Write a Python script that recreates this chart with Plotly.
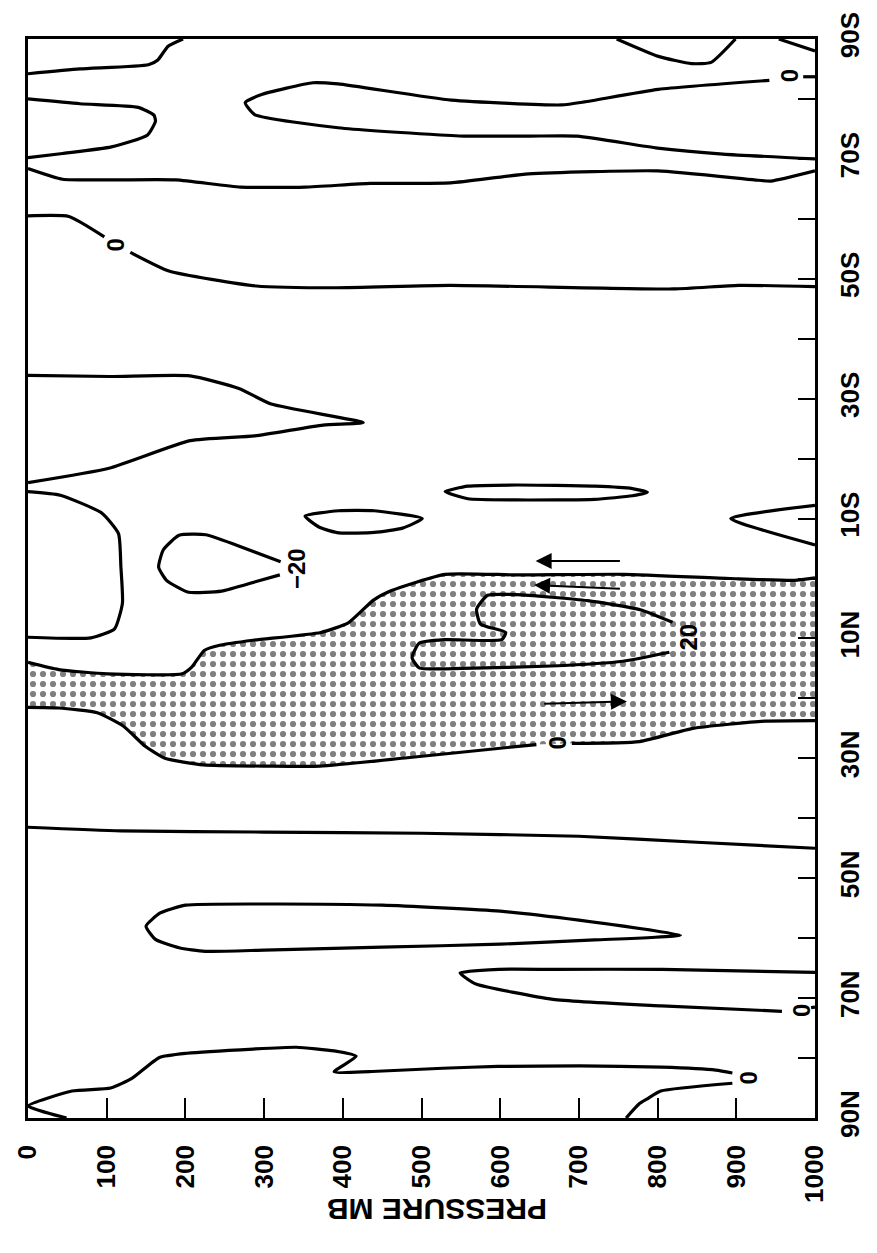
import plotly.graph_objects as go

# ---------------- axis ticks ----------------
p_ticks = [0, 100, 200, 300, 400, 500, 600, 700, 800, 900, 1000]
p_ticktext = [str(v) for v in p_ticks]
lat_ticks = [-90, -70, -50, -30, -10, 10, 30, 50, 70, 90]
lat_ticktext = ["90S", "70S", "50S", "30S", "10S", "10N", "30N", "50N", "70N", "90N"]

# ---------------- contour lines (pressure mb, latitude deg; S negative) ----------------
a_p = [197, 178, 165, 153, 66, 0]
a_lat = [-90, -88.8, -86.5, -85.7, -85.0, -84.2]

b_p = [0, 66, 140, 160, 162, 152, 106, 44, 0]
b_lat = [-80.0, -79.2, -78.6, -77.3, -76.3, -74.0, -72.0, -70.9, -70.2]

c_p = [0, 44, 106, 188, 270, 352, 435, 537, 636, 800, 923, 944, 1000]
c_lat = [-68.4, -66.6, -66.5, -66.5, -65.3, -65.3, -65.9, -66.0, -67.5, -68.0, -66.5, -66.3, -68.0]

tongue_p = [1000, 883, 800, 698, 637, 554, 538, 394, 288, 276, 296, 362, 394, 538, 678, 707, 801, 942]
tongue_lat = [-70.0, -70.8, -71.8, -73.8, -73.8, -73.8, -73.9, -75.2, -77.4, -79.4, -80.7, -82.7, -82.5, -79.8, -79.0, -79.5, -81.6, -83.1]
tongue_tail_p = [985, 1000]
tongue_tail_lat = [-83.7, -83.7]

bump_p = [748, 801, 843, 868, 899]
bump_lat = [-90, -87.1, -85.9, -86.1, -90]
corner_p = [954, 1000]
corner_lat = [-90, -88.0]

d1_p = [0, 52, 97]
d1_lat = [-60.5, -60.4, -57.0]
d2_p = [130, 179, 290, 392, 536, 820, 903, 1000]
d2_lat = [-54.4, -51.3, -48.8, -48.5, -48.9, -48.3, -48.9, -48.7]

e_p = [0, 104, 206, 268, 309, 426, 375, 288, 206, 103, 0]
e_lat = [-33.9, -33.7, -33.8, -31.7, -29.1, -26.0, -25.6, -23.8, -23.0, -18.4, -16.0]

f_p = [0, 41, 94, 115, 118, 120, 110, 80, 0]
f_lat = [-14.5, -13.9, -10.9, -7.5, -2.0, 4.1, 8.4, 9.9, 9.8]

oval_p = [352, 395, 440, 501, 476, 440, 395, 371, 352]
oval_lat = [-10.4, -11.3, -11.3, -10.0, -8.4, -7.7, -7.6, -8.5, -10.4]

ellipse_p = [530, 559, 621, 720, 768, 787, 768, 720, 621, 559, 530]
ellipse_lat = [-14.5, -15.4, -15.6, -15.4, -15.0, -14.4, -13.8, -13.2, -13.1, -13.3, -14.5]

v_p = [1000, 893, 1000]
v_lat = [-12.2, -10.0, -5.6]

neg20_p = [321, 266, 226, 192, 172, 166, 176, 204, 246, 290, 320]
neg20_lat = [-2.8, -5.5, -7.3, -7.2, -4.8, -1.9, 0.3, 2.3, 2.1, 0.5, -0.6]

# stippled region boundaries (zero lines)
g_p = [0, 39, 101, 196, 208, 224, 245, 286, 372, 407, 439, 462, 530, 621, 757, 892, 974, 1000]
g_lat = [14.0, 15.2, 15.9, 15.9, 14.8, 12.0, 11.1, 10.3, 9.0, 7.4, 3.6, 2.0, -0.7, -0.6, -0.7, 0.0, 0.3, -0.1]
h1_p = [0, 39, 88, 121, 149, 174, 223, 306, 371, 482, 646]
h1_lat = [21.5, 21.6, 22.4, 24.6, 28.0, 30.0, 31.1, 31.3, 31.3, 29.9, 27.7]
h2_p = [691, 777, 845, 936, 1000]
h2_lat = [27.5, 27.2, 25.0, 23.8, 23.7]

pos20_p = [819, 778, 711, 621, 584, 570, 575, 607, 602, 529, 497, 488, 497, 551, 665, 756, 815]
pos20_lat = [7.3, 5.2, 3.7, 2.7, 2.8, 5.1, 7.6, 9.0, 10.2, 10.2, 10.8, 13.2, 14.9, 15.0, 14.6, 13.8, 12.3]

p_line_p = [0, 118, 300, 500, 700, 850, 1000]
p_line_lat = [41.5, 42.1, 42.3, 42.5, 43.0, 44.0, 45.0]

lens_p = [829, 700, 600, 450, 300, 200, 168, 150, 162, 192, 225, 300, 450, 600, 720, 829]
lens_lat = [59.5, 57.0, 55.5, 54.5, 54.3, 54.5, 55.8, 58.0, 60.2, 61.6, 62.2, 62.0, 61.5, 61.0, 60.3, 59.5]

n70_p = [1000, 806, 667, 598, 549, 556, 570, 667, 805, 958]
n70_lat = [65.7, 65.2, 65.2, 65.2, 65.8, 66.6, 67.7, 70.2, 71.3, 72.2]
n70_tail_p = [995, 1000]
n70_tail_lat = [71.6, 71.5]

n80a_p = [49, 0, 56, 105, 132, 167, 202, 286, 341, 389, 417, 389, 444, 527, 597, 701, 805, 874, 895]
n80a_lat = [90, 88.0, 85.5, 85.0, 83.4, 79.9, 79.2, 78.5, 78.2, 78.8, 79.7, 82.3, 82.2, 81.7, 81.4, 81.3, 81.5, 82.0, 82.5]
n80b_p = [895, 804, 787, 777, 760]
n80b_lat = [84.2, 85.5, 86.8, 87.6, 90]

# contour labels
lab_text = ["0", "0", "\u221220", "20", "0", "0", "0"]
lab_p = [111, 967, 342, 839, 673, 982, 915]
lab_lat = [-55.6, -83.8, -1.6, 9.8, 27.4, 72.0, 83.4]

# circulation arrows (tail -> head)
arr_tail_p = [754, 754, 654]
arr_tail_lat = [-2.9, 1.7, 20.9]
arr_head_p = [645, 643, 761]
arr_head_lat = [-2.9, 1.1, 20.5]

fig = go.Figure()

# stippled positive region
fig.add_trace(go.Scatter(
    x=g_p + h2_p[::-1] + h1_p[::-1], y=g_lat + h2_lat[::-1] + h1_lat[::-1],
    mode="lines", fill="toself", fillcolor="white",
    fillpattern=dict(shape=".", fgcolor="black", bgcolor="white", size=10, solidity=0.3),
    line=dict(width=0, color="rgba(0,0,0,0)"), hoverinfo="skip", showlegend=False))

lines = [
    (a_p, a_lat), (b_p, b_lat), (c_p, c_lat), (tongue_p, tongue_lat), (tongue_tail_p, tongue_tail_lat),
    (bump_p, bump_lat), (corner_p, corner_lat), (d1_p, d1_lat), (d2_p, d2_lat), (e_p, e_lat),
    (f_p, f_lat), (oval_p, oval_lat), (ellipse_p, ellipse_lat), (v_p, v_lat), (neg20_p, neg20_lat),
    (g_p, g_lat), (h1_p, h1_lat), (h2_p, h2_lat), (pos20_p, pos20_lat), (p_line_p, p_line_lat),
    (lens_p, lens_lat), (n70_p, n70_lat), (n70_tail_p, n70_tail_lat), (n80a_p, n80a_lat), (n80b_p, n80b_lat),
]
for xs, ys in lines:
    fig.add_trace(go.Scatter(x=xs, y=ys, mode="lines",
                             line=dict(color="black", width=3.2, shape="spline", smoothing=0.5),
                             hoverinfo="skip", showlegend=False))

font_fam = "Liberation Sans, Arial, sans-serif"
annotations = []
for t, px, la in zip(lab_text, lab_p, lab_lat):
    annotations.append(dict(x=px, y=la, xref="x", yref="y", text=t, showarrow=False,
                            textangle=-90, font=dict(family=font_fam, size=24, color="black", weight="bold")))
for tp, tl, hp, hl in zip(arr_tail_p, arr_tail_lat, arr_head_p, arr_head_lat):
    annotations.append(dict(x=hp, y=hl, ax=tp, ay=tl, xref="x", yref="y", axref="x", ayref="y",
                            text="", showarrow=True, arrowhead=2, arrowsize=1.6, arrowwidth=2,
                            arrowcolor="black"))
annotations.append(dict(x=0.519, y=-0.1026, xref="paper", yref="paper", text="PRESSURE MB",
                        showarrow=False, textangle=180,
                        font=dict(family=font_fam, size=30, color="black", weight="bold")))

fig.update_layout(
    width=877, height=1253,
    margin=dict(l=17, r=49, t=36, b=135),
    paper_bgcolor="white", plot_bgcolor="white",
    annotations=annotations,
    xaxis=dict(range=[0, 1000], tickmode="array", tickvals=p_ticks, ticktext=p_ticktext,
               ticks="inside", ticklen=20, tickwidth=2, tickcolor="black", tickangle=-90,
               ticklabelstandoff=14,
               tickfont=dict(family=font_fam, size=26, color="black", weight="bold"),
               showgrid=False, zeroline=False, showline=True, mirror=True,
               linecolor="black", linewidth=2.5),
    yaxis=dict(range=[90, -90], side="right", tickmode="array", tickvals=lat_ticks,
               ticktext=lat_ticktext, ticks="inside", ticklen=17, tickwidth=2, tickcolor="black",
               tickangle=-90, ticklabelstandoff=10,
               minor=dict(tickmode="linear", tick0=-90, dtick=10, ticks="inside", ticklen=17,
                          tickwidth=2, tickcolor="black"),
               tickfont=dict(family=font_fam, size=26, color="black", weight="bold"),
               showgrid=False, zeroline=False, showline=True, mirror=True,
               linecolor="black", linewidth=2.5),
)

fig.write_html("out.html")
